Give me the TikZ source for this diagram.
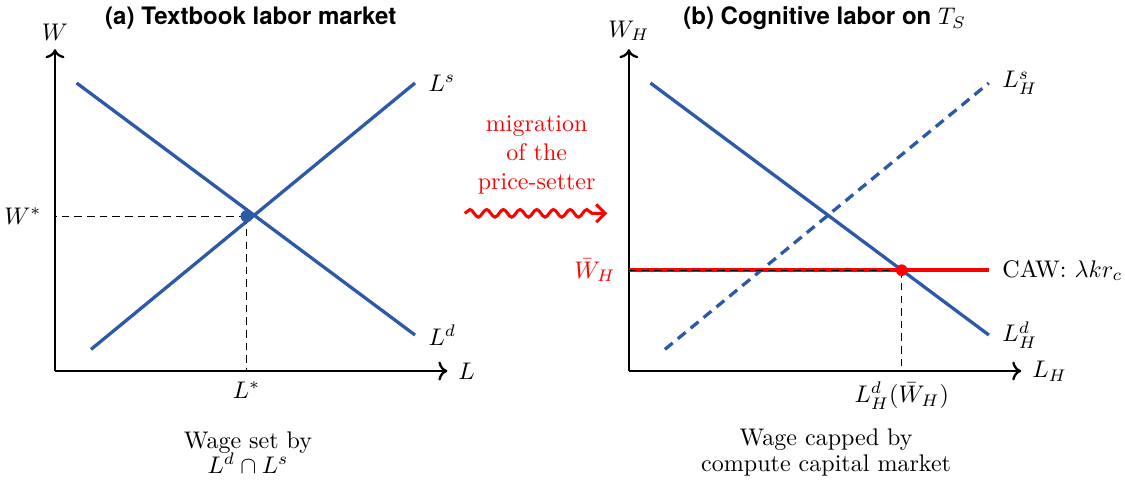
\documentclass[tikz,border=0pt]{standalone}
\usepackage{amsmath}
\usepackage{amssymb}
\usepackage{fontspec}
\newfontfamily\headfont{TeX Gyre Heros}
\usetikzlibrary{arrows.meta,positioning,calc,decorations.pathmorphing}
\definecolor{curveblue}{RGB}{45,90,168}

\begin{document}
\begin{tikzpicture}[
  every node/.append style={scale=0.95},
  axis/.style  ={->, line width=0.9pt},
  curve/.style ={draw=curveblue, line width=1.3pt},
  supply/.style={draw=curveblue, line width=1.3pt, dash pattern=on 4pt off 2.6pt},
  guide/.style ={draw=black, line width=0.45pt, dash pattern=on 3pt off 2pt},
  capline/.style={draw=red, line width=1.6pt},
  paneltitle/.style={font=\headfont\bfseries},
  caption/.style={align=center},
  migrate/.style={->, >={Straight Barb[length=3.5pt,width=7pt]}, draw=red, line width=1.2pt,
                 decorate, decoration={snake, amplitude=1.5pt, segment length=6.6pt, post length=3pt}},
]
\useasboundingbox (-0.764,-1.583) rectangle (14.861,5.153);

% Panel (a) -- textbook market, demand and supply crossing.
\coordinate (aO) at (0,0);
\coordinate (aY) at (0,4.47);
\coordinate (aX) at (5.45,0);
\coordinate (aD1) at (0.3,4.0);
\coordinate (aD2) at (5.0,0.5);
\coordinate (aS1) at (0.5,0.3);
\coordinate (aS2) at (5.0,4.0);
\coordinate (aE)  at (2.66,2.15);

\draw[axis] (aO) -- (aY);
\draw[axis] (aO) -- (aX);
\node[above=0pt of aY] (aWlab) {$W$};
\node[right=1pt of aX] (aLlab) {$L$};
\node[paneltitle] (atitle) at (2.72,4.90) {(a) Textbook labor market};

\draw[guide] (aE) -- (aE -| aO);
\draw[guide] (aE) -- (aE |- aO);
\draw[curve] (aD1) -- (aD2);
\draw[curve] (aS1) -- (aS2);
\fill[curveblue] (aE) circle (2.4pt);

\node[right=2pt of aS2] (aSlab) {$L^s$};
\node[right=2pt of aD2] (aDlab) {$L^d$};
\node[left=2pt of aE -| aO] (aWstar) {$W^*$};
\node[below=1pt of aE |- aO] (aLstar) {$L^*$};
\node[caption] (acap) at (2.68,-1.13) {Wage set by\\[-1.5pt]$L^d\cap L^s$};

% Migration arrow -- between the panels.
\node[red, align=center] (mig) at (6.69,3.0) {migration\\of the\\price-setter};
\coordinate (migL) at (5.69,2.19);
\coordinate (migR) at (7.67,2.19);
\draw[migrate] (migL) -- (migR);

% Panel (b) -- cognitive labor, wage capped by compute.
\begin{scope}[xshift=7.97cm]
\coordinate (bO) at (0,0);
\coordinate (bY) at (0,4.47);
\coordinate (bX) at (5.45,0);
\coordinate (bD1) at (0.3,4.0);
\coordinate (bD2) at (5.0,0.5);
\coordinate (bS1) at (0.5,0.3);
\coordinate (bS2) at (5.0,4.0);
\coordinate (bC0) at (0,1.4);
\coordinate (bC1) at (5.0,1.4);
\coordinate (bE)  at (3.79,1.4);

\draw[axis] (bO) -- (bY);
\draw[axis] (bO) -- (bX);
\node[above=0pt of bY] (bWlab) {$W_H$};
\node[right=1pt of bX] (bLlab) {$L_H$};
\node[paneltitle] (btitle) at (2.72,4.90) {(b) Cognitive labor on $T_S$};

\draw[curve] (bD1) -- (bD2);
\draw[supply] (bS1) -- (bS2);
\draw[capline] (bC0) -- (bC1);
\draw[guide] (bC0) -- (bE);
\draw[guide] (bE) -- (bE |- bO);
\fill[red] (bE) circle (2.3pt);

\node[right=2pt of bS2] (bSlab) {$L^s_H$};
\node[right=2pt of bD2] (bDlab) {$L^d_H$};
\node[right=2pt of bC1] (bCAW) {CAW: $\lambda k r_c$};
\node[left=2pt of bC0, red] (bWbar) {$\bar{W}_H$};
\node[below=1pt of bE |- bO] (bLbar) {$L^d_H(\bar{W}_H)$};
\node[caption] (bcap) at (2.74,-1.13) {Wage capped by\\[-1.5pt]compute capital market};
\end{scope}
\end{tikzpicture}
\end{document}
